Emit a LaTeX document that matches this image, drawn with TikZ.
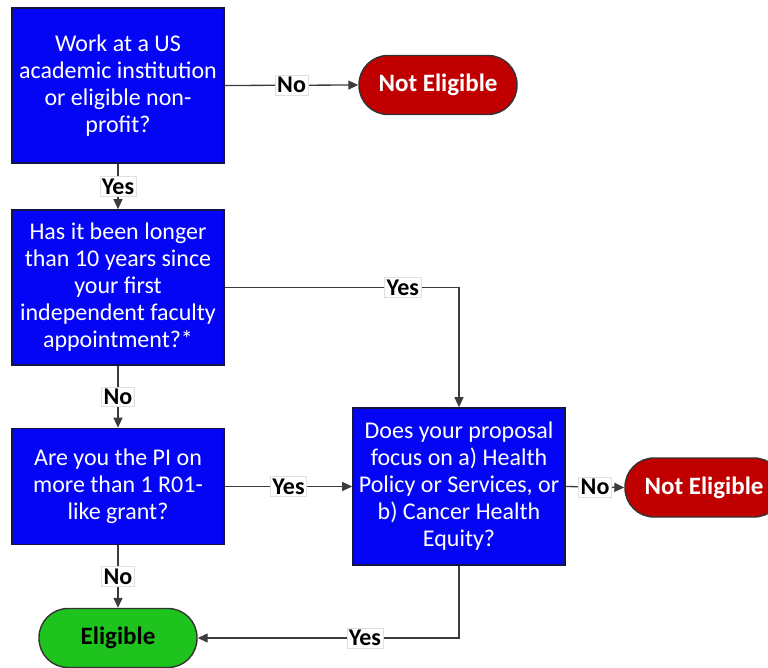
\documentclass[tikz,border=0pt]{standalone}
\usepackage{fontspec}
\setmainfont{Carlito}
\usetikzlibrary{
    positioning,
    arrows.meta
}
\definecolor{qblue}{RGB}{5,5,245}
\definecolor{qborder}{RGB}{20,20,70}
\definecolor{nered}{RGB}{192,0,0}
\definecolor{eligreen}{RGB}{30,195,30}
\definecolor{linegray}{RGB}{60,60,60}

\tikzset{
    question/.style={draw=qborder, line width=1.6pt, fill=qblue, text=white,
        minimum width=212pt, align=center, inner sep=2pt,
        font=\fontsize{24}{27}\selectfont},
    ending/.style={draw=black!80, line width=1.4pt, rounded corners=29pt,
        minimum width=158pt, minimum height=59pt, inner sep=2pt,
        font=\fontsize{25}{28}\selectfont\bfseries},
    answer/.style={fill=white, draw=black!12, line width=0.5pt, inner sep=2pt,
        font=\fontsize{24}{26}\selectfont\bfseries},
    flow/.style={draw=linegray, line width=1.3pt,
        -{Triangle[length=10pt,width=9pt]}}
}

\begin{document}
\begin{tikzpicture}[x=1pt,y=-1pt]
            \useasboundingbox (0,0) rectangle (768,668);

            % Questions
            \node[question, minimum height=155pt] (q1) at (118,85.5)
                {Work at a US\\academic institution\\or eligible non-\\profit?};
            \node[question, minimum height=155pt] (q2) at (118,287.5)
                {Has it been longer\\than 10 years since\\your first\\independent faculty\\appointment?*};
            \node[question, minimum height=116pt] (q3) at (118,486.5)
                {Are you the PI on\\more than 1 R01-\\like grant?};
            \node[question, minimum height=157pt] (q4) at (459,486.5)
                {Does your proposal\\focus on a) Health\\Policy or Services, or\\b) Cancer Health\\Equity?};

            % Outcomes
            \node[ending, fill=nered, text=white] (ne1) at (438,85) {Not Eligible};
            \node[ending, fill=nered, text=white] (ne2) at (704,487.5) {Not Eligible};
            \node[ending, fill=eligreen, text=black] (elig) at (118,638) {Eligible};

            % Connectors
            \draw[flow] (q1.east) -- node[answer] {No} (ne1.west);
            \draw[flow] (q1.south) -- node[answer] {Yes} (q2.north);
            \draw[flow] (q2.east) -| node[answer, pos=0.38] {Yes} (q4.north);
            \draw[flow] (q2.south) -- node[answer] {No} (q3.north);
            \draw[flow] (q3.east) -- node[answer] {Yes} (q4.west);
            \draw[flow] (q4.east) -- node[answer] {No} (ne2.west);
            \draw[flow] (q3.south) -- node[answer] {No} (elig.north);
            \draw[flow] (q4.south) |- node[answer, pos=0.68] {Yes} (elig.east);
          \end{tikzpicture}
\end{document}
